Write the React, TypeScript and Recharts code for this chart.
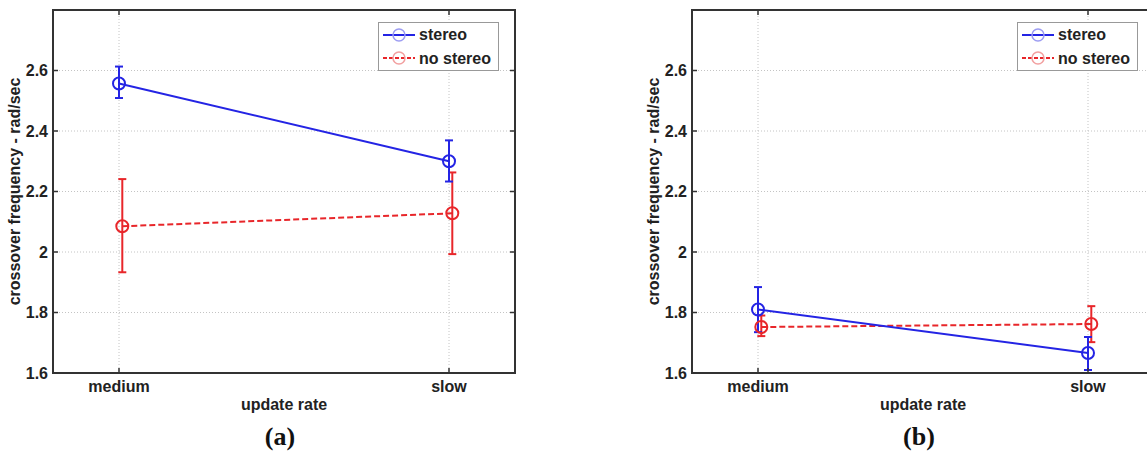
import {
  LineChart,
  Line,
  XAxis,
  YAxis,
  CartesianGrid,
  ErrorBar,
  ReferenceArea,
  Label,
} from "recharts";

const categories = ["medium", "slow"];
const yTicks = [1.6, 1.8, 2, 2.2, 2.4, 2.6];
const xStereo = [1, 2];
const xNoStereo = [1.01, 2.01];

// panel (a)
const stereoA = [2.557, 2.3];
const stereoALow = [2.509, 2.233];
const stereoAHigh = [2.613, 2.369];
const noStereoA = [2.085, 2.128];
const noStereoALow = [1.933, 1.993];
const noStereoAHigh = [2.241, 2.263];

// panel (b)
const stereoB = [1.81, 1.666];
const stereoBLow = [1.735, 1.61];
const stereoBHigh = [1.884, 1.719];
const noStereoB = [1.752, 1.762];
const noStereoBLow = [1.722, 1.702];
const noStereoBHigh = [1.79, 1.821];

const BLUE = "#2424e4";
const RED = "#e8262a";
const FONT = "'Liberation Sans', Arial, sans-serif";
const TEXT = "#222";

const rows = (xs: number[], v: number[], lo: number[], hi: number[]) =>
  v.map((val, i) => ({ x: xs[i], v: val, err: [val - lo[i], hi[i] - val] }));

const W = 600;
const H = 453;
const TOP = 10;
const BOTTOM = 373;
const YAW = 30;

type PanelProps = {
  left: number;
  plotLeft: number;
  caption: string;
  stereo: ReturnType<typeof rows>;
  noStereo: ReturnType<typeof rows>;
};

function Panel({ left, plotLeft, caption, stereo, noStereo }: PanelProps) {
  const plotRight = plotLeft + 462;
  const mid = (plotLeft + plotRight) / 2;

  const yTick = (p: any) => (
    <g>
      <line x1={plotLeft} x2={plotLeft + 5} y1={p.y} y2={p.y} stroke="#333" strokeWidth={1.5} />
      <line x1={plotRight - 5} x2={plotRight} y1={p.y} y2={p.y} stroke="#333" strokeWidth={1.5} />
      <text x={plotLeft - 5} y={p.y + 5.5} textAnchor="end" fontFamily={FONT} fontWeight="bold" fontSize={16} fill={TEXT}>
        {String(p.payload.value)}
      </text>
    </g>
  );

  const xTick = (p: any) => (
    <g>
      <line x1={p.x} x2={p.x} y1={BOTTOM - 5} y2={BOTTOM} stroke="#333" strokeWidth={1.5} />
      <line x1={p.x} x2={p.x} y1={TOP} y2={TOP + 5} stroke="#333" strokeWidth={1.5} />
      <text x={p.x} y={392} textAnchor="middle" fontFamily={FONT} fontWeight="bold" fontSize={16} fill={TEXT}>
        {categories[Math.round(p.payload.value) - 1]}
      </text>
    </g>
  );

  const legendX = plotRight - 16 - 121;

  return (
    <div style={{ position: "absolute", left, top: 0, width: W, height: H }}>
      <LineChart
        width={W}
        height={H}
        margin={{ top: TOP, left: plotLeft - YAW, right: W - plotRight, bottom: 30 }}
      >
        <CartesianGrid strokeDasharray="1 2" stroke="#c4c4c4" />
        <XAxis
          type="number"
          dataKey="x"
          domain={[0.8, 2.2]}
          ticks={[1, 2]}
          allowDataOverflow
          axisLine={false}
          tickLine={false}
          tick={xTick}
          height={50}
        >
          <Label
            content={() => (
              <g>
                <text x={mid} y={410} textAnchor="middle" fontFamily={FONT} fontWeight="bold" fontSize={16} fill={TEXT}>
                  update rate
                </text>
                <text x={mid - 4} y={445} textAnchor="middle" fontFamily="'Liberation Serif', 'Times New Roman', serif" fontWeight="bold" fontSize={26} fill="#111">
                  {caption}
                </text>
              </g>
            )}
          />
        </XAxis>
        <YAxis
          type="number"
          domain={[1.6, 2.8]}
          ticks={yTicks}
          allowDataOverflow
          axisLine={false}
          tickLine={false}
          tick={yTick}
          width={YAW}
        >
          <Label
            content={() => (
              <text
                x={plotLeft - 39}
                y={(TOP + BOTTOM) / 2}
                transform={`rotate(-90 ${plotLeft - 39} ${(TOP + BOTTOM) / 2})`}
                textAnchor="middle"
                dominantBaseline="central"
                fontFamily={FONT}
                fontWeight="bold"
                fontSize={16}
                fill={TEXT}
              >
                crossover frequency - rad/sec
              </text>
            )}
          />
        </YAxis>
        <ReferenceArea x1={0.8} x2={2.2} y1={1.6} y2={2.8} fill="none" stroke="#333" strokeWidth={2} />
        <Line
          data={noStereo}
          dataKey="v"
          stroke={RED}
          strokeWidth={2}
          strokeDasharray="6 3"
          dot={{ r: 6, fill: "none", stroke: RED, strokeWidth: 2, strokeDasharray: "none" }}
          isAnimationActive={false}
        >
          <ErrorBar dataKey="err" width={4} stroke={RED} strokeWidth={2} direction="y" />
        </Line>
        <Line
          data={stereo}
          dataKey="v"
          stroke={BLUE}
          strokeWidth={2}
          dot={{ r: 6, fill: "none", stroke: BLUE, strokeWidth: 2 }}
          isAnimationActive={false}
        >
          <ErrorBar dataKey="err" width={4} stroke={BLUE} strokeWidth={2} direction="y" />
        </Line>
      </LineChart>
      <svg
        width={121}
        height={49}
        style={{ position: "absolute", left: legendX, top: 22 }}
      >
        <rect x={0.5} y={0.5} width={120} height={48} fill="#fff" stroke="#999" />
        <line x1={5} x2={37} y1={13} y2={13} stroke={BLUE} strokeWidth={2} />
        <circle cx={21} cy={13} r={6} fill="none" stroke="#9c9cf2" strokeWidth={1.5} />
        <text x={41} y={18} fontFamily={FONT} fontWeight="bold" fontSize={16} fill={TEXT}>
          stereo
        </text>
        <line x1={5} x2={37} y1={36} y2={36} stroke={RED} strokeWidth={2} strokeDasharray="4 2" />
        <circle cx={21} cy={36} r={6} fill="none" stroke="#f2a0a0" strokeWidth={1.5} />
        <text x={41} y={42} fontFamily={FONT} fontWeight="bold" fontSize={16} fill={TEXT}>
          no stereo
        </text>
      </svg>
    </div>
  );
}

export default function App() {
  return (
    <div
      style={{
        position: "absolute",
        left: 0,
        top: 0,
        width: 1147,
        height: 453,
        overflow: "hidden",
        background: "#fff",
      }}
    >
      <Panel
        left={0}
        plotLeft={53}
        caption="(a)"
        stereo={rows(xStereo, stereoA, stereoALow, stereoAHigh)}
        noStereo={rows(xNoStereo, noStereoA, noStereoALow, noStereoAHigh)}
      />
      <Panel
        left={600}
        plotLeft={92}
        caption="(b)"
        stereo={rows(xStereo, stereoB, stereoBLow, stereoBHigh)}
        noStereo={rows(xNoStereo, noStereoB, noStereoBLow, noStereoBHigh)}
      />
    </div>
  );
}
